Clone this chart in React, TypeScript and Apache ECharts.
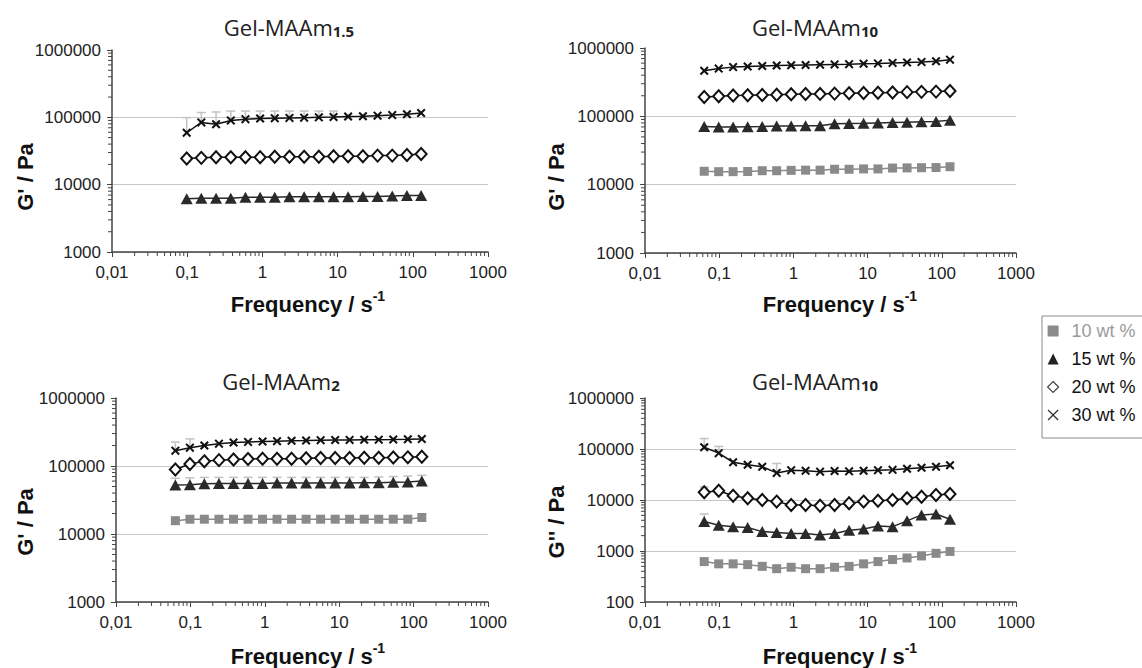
import React, { useEffect, useRef } from "react";
import * as echarts from "echarts";

// ---- data ----
const FREQ = [0.0628, 0.0985, 0.154, 0.242, 0.38, 0.595, 0.933, 1.46, 2.29, 3.59, 5.63, 8.83, 13.8, 21.7, 34, 53.3, 83.6, 129];

// Panel 1: Gel-MAAm1.5 (G'), starts at FREQ[1]
const P1_15 = [6200, 6300, 6300, 6300, 6500, 6500, 6500, 6600, 6600, 6600, 6600, 6600, 6700, 6700, 6800, 6900, 6900];
const P1_20 = [24500, 25000, 25500, 25500, 25500, 25500, 26000, 26000, 26000, 26000, 26500, 26500, 26500, 27000, 27000, 27500, 28500];
const P1_30 = [59000, 84000, 79000, 90000, 94000, 96000, 97000, 98000, 99000, 100000, 101000, 103000, 104000, 106000, 108000, 111000, 116000];
const P1_30_UP = [99000, 118000, 120000, 124000, 124000, 124000, 124000, 124000, 124000, 124000, 124000, null, null, null, null, null, null];

// Panel 2: Gel-MAAm10 (G')
const P2_10 = [15700, 15500, 15500, 15600, 16000, 16000, 16200, 16300, 16300, 16800, 16800, 17000, 17000, 17500, 17600, 17700, 17800, 18300];
const P2_15 = [71000, 70000, 70000, 70500, 71000, 72000, 72500, 73000, 73000, 78000, 78500, 79000, 80000, 81000, 82000, 83000, 84000, 88000];
const P2_20 = [192000, 197000, 202000, 203000, 205000, 207000, 210000, 212000, 213000, 215000, 217000, 220000, 222000, 224000, 226000, 228000, 230000, 235000];
const P2_30 = [465000, 500000, 525000, 535000, 545000, 555000, 560000, 565000, 570000, 575000, 580000, 590000, 595000, 605000, 615000, 625000, 640000, 675000];

// Panel 3: Gel-MAAm2 (G')
const P3_10 = [15700, 16500, 16500, 16500, 16500, 16500, 16500, 16500, 16500, 16500, 16500, 16500, 16500, 16500, 16500, 16500, 16500, 17500];
const P3_15 = [52500, 53000, 55000, 55500, 55500, 55500, 55500, 56000, 56000, 56000, 56000, 56000, 56000, 56500, 56500, 57500, 58000, 60000];
const P3_20 = [89000, 107000, 117000, 122000, 125000, 127000, 128000, 128000, 128000, 130000, 131000, 131000, 131000, 132000, 132000, 133000, 134000, 137000];
const P3_30 = [168000, 186000, 200000, 213000, 222000, 226000, 229000, 232000, 235000, 237000, 240000, 241000, 242000, 243000, 244000, 245000, 247000, 250000];
const P3_15_UP = [66000, 67000, 68000, 68000, 68000, 68000, 68000, 68000, 68000, 68000, 68000, 68000, 68000, 68000, 69000, 70000, 71000, 73000];
const P3_30_UP = [225000, 250000, null, null, null, null, null, null, null, null, null, null, null, null, null, null, null, null];

// Panel 4: Gel-MAAm10 (G'')
const P4_10 = [620, 560, 560, 540, 500, 450, 480, 450, 450, 480, 500, 560, 620, 680, 730, 800, 900, 980];
const P4_15 = [3800, 3200, 3000, 2900, 2400, 2300, 2200, 2200, 2050, 2200, 2550, 2700, 3100, 3000, 3900, 5100, 5300, 4200];
const P4_20 = [14200, 15200, 12100, 10800, 10000, 9300, 8000, 8000, 7700, 8000, 8600, 9300, 9700, 10000, 10800, 11600, 12500, 13100];
const P4_30 = [108000, 83000, 55000, 49000, 45000, 34000, 38500, 37500, 36000, 37000, 36500, 37500, 38500, 39000, 41000, 43000, 45000, 48000];
const P4_30_UP = [160000, 112000, null, null, null, 52000, null, null, null, null, null, null, null, null, null, null, null, null];
const P4_20_UP = [18000, null, null, null, null, null, null, null, null, null, null, null, null, null, null, null, null, null];
const P4_15_UP = [5300, null, null, null, null, null, null, null, null, null, null, null, null, null, null, null, null, null];

const SERIES_NAMES = ["10 wt %", "15 wt %", "20 wt %", "30 wt %"];
const TITLE_SUBS = ["1.5", "10", "2", "10"];
const Y_NAMES = ["G' / Pa", "G' / Pa", "G' / Pa", "G'' / Pa"];
const X_NAME = "Frequency / s";
const X_NAME_SUP = "-1";
const Y_MINS = [1000, 1000, 1000, 100];
const Y_MAX = 1000000;
const X_MIN = 0.01;
const X_MAX = 1000;
const MINOR_FACTORS = [2, 3, 4, 5, 6, 7, 8, 9];

// ---- layout ----
const GRIDS = [
  { left: 112, top: 50, width: 376, height: 202 },
  { left: 645, top: 48, width: 371, height: 205 },
  { left: 116, top: 398, width: 372, height: 204 },
  { left: 645, top: 398, width: 371, height: 204 },
];
const TITLE_POS = [[289, 24], [815, 24], [281, 378], [815, 378]];
const XNAME_POS = [[308, 302], [840, 302], [308, 654], [840, 654]];
const YNAME_POS = [[25, 177], [556, 177], [25, 522], [556, 522]];

const X_PATH = "path://M0,1.6L1.6,0L5,3.4L8.4,0L10,1.6L6.6,5L10,8.4L8.4,10L5,6.6L1.6,10L0,8.4L3.4,5Z";
const X_PATH_THIN = "path://M0,0.8L0.8,0L5,4.2L9.2,0L10,0.8L5.8,5L10,9.2L9.2,10L5,5.8L0.8,10L0,9.2L4.2,5Z";

const STYLES: any = {
  "10 wt %": { symbol: "rect", symbolSize: 9, color: "#8a8a8a", line: "#8a8a8a" },
  "15 wt %": { symbol: "triangle", symbolSize: [12, 11], color: "#2a2a2a", line: "#2a2a2a" },
  "20 wt %": { symbol: "diamond", symbolSize: [11, 12], color: "#ffffff", border: "#111", line: "#111" },
  "30 wt %": { symbol: X_PATH, symbolSize: 9, color: "#111", line: "#111" },
};

function fmt(v: number) {
  const r = Number(Number(v).toPrecision(6));
  return String(r).replace(".", ",");
}

function decades(min: number, max: number) {
  const out: number[] = [];
  for (let e = Math.round(Math.log10(min)); e < Math.round(Math.log10(max)); e++) {
    for (const f of MINOR_FACTORS) out.push(Number((f * Math.pow(10, e)).toPrecision(6)));
  }
  return out;
}

function pairs(xs: number[], ys: (number | null)[]) {
  return ys.map((y, i) => [xs[i], y]);
}

function errPairs(xs: number[], ys: number[], ups: (number | null)[]) {
  const out: any[] = [];
  ups.forEach((u, i) => {
    if (u != null) out.push([xs[i], ys[i], u]);
  });
  return out;
}

export default function App() {
  const ref = useRef<HTMLDivElement>(null);
  useEffect(() => {
    if (!ref.current) return;
    const chart = echarts.init(ref.current, undefined, { renderer: "svg" });

    const panelData: any[] = [
      { "15 wt %": P1_15, "20 wt %": P1_20, "30 wt %": P1_30, x: FREQ.slice(1) },
      { "10 wt %": P2_10, "15 wt %": P2_15, "20 wt %": P2_20, "30 wt %": P2_30, x: FREQ },
      { "10 wt %": P3_10, "15 wt %": P3_15, "20 wt %": P3_20, "30 wt %": P3_30, x: FREQ },
      { "10 wt %": P4_10, "15 wt %": P4_15, "20 wt %": P4_20, "30 wt %": P4_30, x: FREQ },
    ];
    const errData: any[] = [
      [["30 wt %", FREQ.slice(1), P1_30, P1_30_UP]],
      [],
      [["15 wt %", FREQ, P3_15, P3_15_UP], ["30 wt %", FREQ, P3_30, P3_30_UP]],
      [["15 wt %", FREQ, P4_15, P4_15_UP], ["20 wt %", FREQ, P4_20, P4_20_UP], ["30 wt %", FREQ, P4_30, P4_30_UP]],
    ];

    const axisColor = "#444";
    const labelStyle = { fontSize: 17, color: "#222", fontFamily: "Liberation Sans, Arial, sans-serif" };

    const xAxes = GRIDS.map((_, i) => ({
      type: "log",
      logBase: 10,
      gridIndex: i,
      min: X_MIN,
      max: X_MAX,
      axisLine: { show: true, onZero: false, lineStyle: { color: axisColor, width: 1.5 } },
      axisTick: { show: true, length: 5, lineStyle: { color: axisColor, width: 1 } },
      axisLabel: { ...labelStyle, margin: 12, formatter: (v: number) => fmt(v) },
      splitLine: { show: false },
    }));
    const yAxes = GRIDS.map((_, i) => ({
      type: "log",
      logBase: 10,
      gridIndex: i,
      min: Y_MINS[i],
      max: Y_MAX,
      axisLine: { show: true, onZero: false, lineStyle: { color: axisColor, width: 1.5 } },
      axisTick: { show: true, length: 5, lineStyle: { color: axisColor, width: 1 } },
      axisLabel: { ...labelStyle, margin: 11, formatter: (v: number) => fmt(v) },
      splitLine: {
        show: true,
        showMinLine: false,
        showMaxLine: false,
        lineStyle: { color: "#c6c6c6", width: 1 },
      },
    }));

    const series: any[] = [];
    GRIDS.forEach((_, i) => {
      const pd = panelData[i];
      errData[i].forEach((e: any) => {
        series.push({
          type: "custom",
          name: e[0],
          xAxisIndex: i,
          yAxisIndex: i,
          silent: true,
          z: 1,
          clip: false,
          data: errPairs(e[1], e[2], e[3]),
          renderItem: (params: any, api: any) => {
            const p0 = api.coord([api.value(0), api.value(1)]);
            const p1 = api.coord([api.value(0), api.value(2)]);
            const st = { stroke: "#c2c2c2", lineWidth: 1.5 };
            return {
              type: "group",
              children: [
                { type: "line", shape: { x1: p0[0], y1: p0[1], x2: p1[0], y2: p1[1] }, style: st },
                { type: "line", shape: { x1: p1[0] - 4.5, y1: p1[1], x2: p1[0] + 4.5, y2: p1[1] }, style: st },
              ],
            };
          },
        });
      });
      SERIES_NAMES.forEach((name) => {
        if (!pd[name]) return;
        const s = STYLES[name];
        series.push({
          type: "line",
          name,
          xAxisIndex: i,
          yAxisIndex: i,
          data: pairs(pd.x, pd[name]),
          symbol: s.symbol,
          symbolSize: s.symbolSize,
          showAllSymbol: true,
          z: 3,
          lineStyle: { color: s.line, width: 1.5 },
          itemStyle: s.border
            ? { color: s.color, borderColor: s.border, borderWidth: 2 }
            : { color: s.color, borderWidth: 0 },
          emphasis: { disabled: true },
        });
      });
      series.push({
        type: "custom",
        name: "xminor" + i,
        xAxisIndex: i,
        yAxisIndex: i,
        silent: true,
        clip: false,
        z: 5,
        data: decades(X_MIN, X_MAX).map((v) => [v, Y_MINS[i]]),
        renderItem: (params: any, api: any) => {
          const p = api.coord([api.value(0), api.value(1)]);
          return {
            type: "line",
            shape: { x1: p[0], y1: p[1], x2: p[0], y2: p[1] + 4 },
            style: { stroke: axisColor, lineWidth: 1 },
          };
        },
      });
      series.push({
        type: "custom",
        name: "yminor" + i,
        xAxisIndex: i,
        yAxisIndex: i,
        silent: true,
        clip: false,
        z: 5,
        data: decades(Y_MINS[i], Y_MAX).map((v) => [X_MIN, v]),
        renderItem: (params: any, api: any) => {
          const p = api.coord([api.value(0), api.value(1)]);
          return {
            type: "line",
            shape: { x1: p[0], y1: p[1], x2: p[0] - 4, y2: p[1] },
            style: { stroke: axisColor, lineWidth: 1 },
          };
        },
      });
    });

    const graphics: any[] = [];
    GRIDS.forEach((_, i) => {
      graphics.push({
        type: "text",
        x: TITLE_POS[i][0],
        y: TITLE_POS[i][1],
        style: {
          text: "{a|Gel-MAAm}{b|" + TITLE_SUBS[i] + "}",
          align: "center",
          verticalAlign: "middle",
          rich: {
            a: { fontSize: 22, fontFamily: "Open Sans", fill: "#222", lineHeight: 28, verticalAlign: "bottom" },
            b: { fontSize: 15, fontWeight: "bold", fontFamily: "Open Sans", fill: "#222", lineHeight: 10, verticalAlign: "bottom" },
          },
        },
      });
      graphics.push({
        type: "text",
        x: XNAME_POS[i][0],
        y: XNAME_POS[i][1],
        style: {
          text: "{a|" + X_NAME + "}{b|" + X_NAME_SUP + "}",
          align: "center",
          verticalAlign: "middle",
          rich: {
            a: { fontSize: 22, fontWeight: "bold", fontFamily: "Liberation Sans", fill: "#111", lineHeight: 26, verticalAlign: "bottom" },
            b: { fontSize: 14, fontWeight: "bold", fontFamily: "Liberation Sans", fill: "#111", lineHeight: 14, verticalAlign: "top" },
          },
        },
      });
      graphics.push({
        type: "text",
        x: YNAME_POS[i][0],
        y: YNAME_POS[i][1],
        rotation: Math.PI / 2,
        style: {
          text: Y_NAMES[i],
          align: "center",
          verticalAlign: "middle",
          fontSize: 22,
          fontWeight: "bold",
          fontFamily: "Liberation Sans",
          fill: "#111",
        },
      });
    });

    chart.setOption({
      animation: false,
      backgroundColor: "#ffffff",
      grid: GRIDS.map((g) => ({ ...g, containLabel: false })),
      xAxis: xAxes,
      yAxis: yAxes,
      series,
      graphic: graphics,
      legend: {
        orient: "vertical",
        left: 1042,
        top: 316,
        padding: [6, 40, 14, 5],
        borderColor: "#8a8a8a",
        borderWidth: 1,
        itemWidth: 11,
        itemHeight: 11,
        itemGap: 10,
        selectedMode: true,
        textStyle: { fontSize: 18, fontFamily: "Liberation Sans", color: "#111", lineHeight: 18, padding: [0, 0, 0, 8] },
        data: [
          { name: "10 wt %", icon: "rect", itemStyle: { color: "#8a8a8a", borderWidth: 0 }, textStyle: { color: "#9a9a9a" } },
          { name: "15 wt %", icon: "triangle", itemStyle: { color: "#222", borderWidth: 0 } },
          { name: "20 wt %", icon: "diamond", itemStyle: { color: "#fff", borderColor: "#444", borderWidth: 1.2 } },
          { name: "30 wt %", icon: X_PATH_THIN, itemStyle: { color: "#333", borderWidth: 0 } },
        ],
      },
    });
    return () => chart.dispose();
  }, []);
  return (
    <div
      ref={ref}
      style={{ position: "fixed", left: 0, top: 0, width: 1142, height: 668, background: "#fff" }}
    />
  );
}
